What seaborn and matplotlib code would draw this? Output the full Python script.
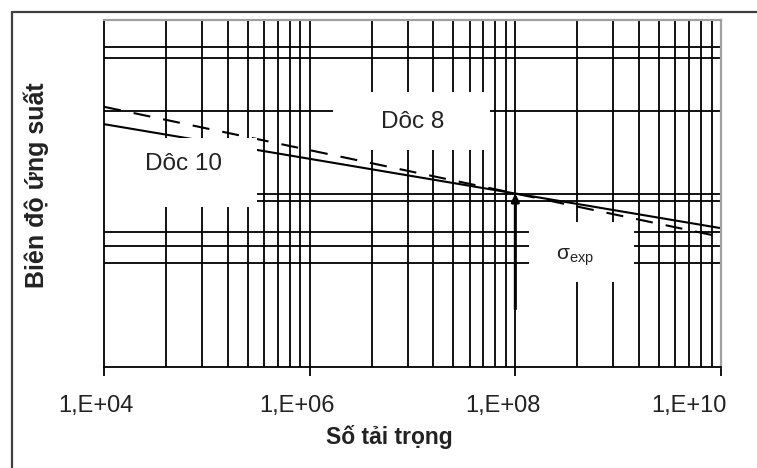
import numpy as np
import pandas as pd
import matplotlib
matplotlib.use("Agg")
import matplotlib.pyplot as plt
import seaborn as sns
from matplotlib.patches import Rectangle
from matplotlib.lines import Line2D
from matplotlib.ticker import FixedLocator, NullLocator
from matplotlib.transforms import ScaledTranslation

# -------------------------------
# Data (S-N curves, log-log)
# -------------------------------
n_cycles = [1e4, 1e8, 1e10]
stress_slope10 = [25.1, 10.0, 6.31]   # solid, "Dôc 10"
stress_slope8 = [31.6, 10.0, 5.62]    # dashed, "Dôc 8"

x_ticks = [1e4, 1e6, 1e8, 1e10]
x_tick_labels = ["1,E+04", "1,E+06", "1,E+08", "1,E+10"]

# grid lines as drawn in the original (Excel base-100 log axis)
x_grid = [b * k ** 2 for b in (1e4, 1e6, 1e8) for k in range(2, 11)][:-1]
y_grid = [4, 5, 6, 9, 10, 30, 60, 70]

arrow_n = 1e8
arrow_from = 2.16
arrow_to = 10.0

# -------------------------------
# Style
# -------------------------------
sns.set_style("white")
plt.rcParams["font.family"] = ["Liberation Sans", "DejaVu Sans"]
plt.rcParams["mathtext.fontset"] = "custom"
plt.rcParams["mathtext.rm"] = "Liberation Sans"
text_col = "#222222"

fig = plt.figure(figsize=(7.57, 4.68), dpi=100)
ax = fig.add_axes([104 / 757, 101 / 468, 617 / 757, 347 / 468])
ax.set_facecolor("white")
ax.set_xscale("log")
ax.set_yscale("log")
ax.set_xlim(1e4, 1e10)
ax.set_ylim(1, 100)

# grid
for xv in x_grid:
    ax.axvline(xv, color="black", lw=1.3, zorder=1)
for yv in y_grid:
    ax.axhline(yv, color="black", lw=1.3, zorder=1)

# curves
sns.lineplot(x=n_cycles, y=stress_slope10, color="black", lw=1.5,
             ax=ax, zorder=2)
sns.lineplot(x=n_cycles, y=stress_slope8, color="black", lw=1.5,
             linestyle=(0, (8.2, 6.3)), ax=ax, zorder=2)

# white text boxes (cover grid like the original text boxes)
boxes = [(0.0, 0.461, 0.248, 0.199),
         (0.371, 0.625, 0.255, 0.168),
         (0.689, 0.245, 0.170, 0.173)]
for x0, y0, w, h in boxes:
    ax.add_patch(Rectangle((x0, y0), w, h, transform=ax.transAxes,
                           facecolor="white", edgecolor="none", zorder=3))

ax.text(0.129, 0.568, "Dôc 10", transform=ax.transAxes, ha="center",
        va="baseline", fontsize=17.5, color=text_col, zorder=4)
ax.text(0.501, 0.689, "Dôc 8", transform=ax.transAxes, ha="center",
        va="baseline", fontsize=17.5, color=text_col, zorder=4)
ax.text(0.763, 0.308, r"$\mathregular{σ_{exp}}$", transform=ax.transAxes,
        ha="center", va="baseline", fontsize=15, color=text_col, zorder=4)

# arrow at sigma_exp
ax.annotate("", xy=(arrow_n, arrow_to), xytext=(arrow_n, arrow_from),
            arrowprops=dict(arrowstyle="-|>", color="black", lw=2.2,
                            mutation_scale=11, shrinkA=0, shrinkB=0),
            zorder=4)

# axes, ticks
ax.xaxis.set_major_locator(FixedLocator(x_ticks))
ax.xaxis.set_minor_locator(NullLocator())
ax.set_xticklabels(x_tick_labels)
ax.yaxis.set_major_locator(NullLocator())
ax.yaxis.set_minor_locator(NullLocator())
ax.tick_params(axis="x", direction="out", length=6.5, width=1.3,
               color="black", pad=14, labelsize=17, labelcolor=text_col,
               bottom=True)
ax.tick_params(axis="y", left=False, labelleft=False)

# Excel-like label placement: labels sit a little left of their ticks
label_shift_pt = [-5.8, -9.4, -8.6, -23.0]
for lab, dx in zip(ax.get_xticklabels(), label_shift_pt):
    lab.set_transform(lab.get_transform()
                      + ScaledTranslation(dx / 72, 0, fig.dpi_scale_trans))

for side in ["left", "bottom"]:
    ax.spines[side].set_color("black")
    ax.spines[side].set_linewidth(1.3)
for side in ["top", "right"]:
    ax.spines[side].set_color("#a0a0a0")
    ax.spines[side].set_linewidth(1.6)
for sp in ax.spines.values():
    sp.set_zorder(5)

ax.set_xlabel("Số tải trọng", fontsize=16.5, fontweight="bold",
              color=text_col, va="center")
ax.xaxis.set_label_coords(0.462, -0.202)
ax.set_ylabel("Biên độ ứng suất", fontsize=18, fontweight="bold",
              color=text_col, va="center")
ax.yaxis.set_label_coords(-0.109, 0.524)

# outer chart border (cut at right/bottom in the original)
bx, by = 12 / 757, 1 - 12 / 468
fig.add_artist(Line2D([bx, 1], [by, by], color="#404040", lw=1.6))
fig.add_artist(Line2D([bx, bx], [0, by], color="#404040", lw=1.6))

fig.savefig("out.png", dpi=100)
